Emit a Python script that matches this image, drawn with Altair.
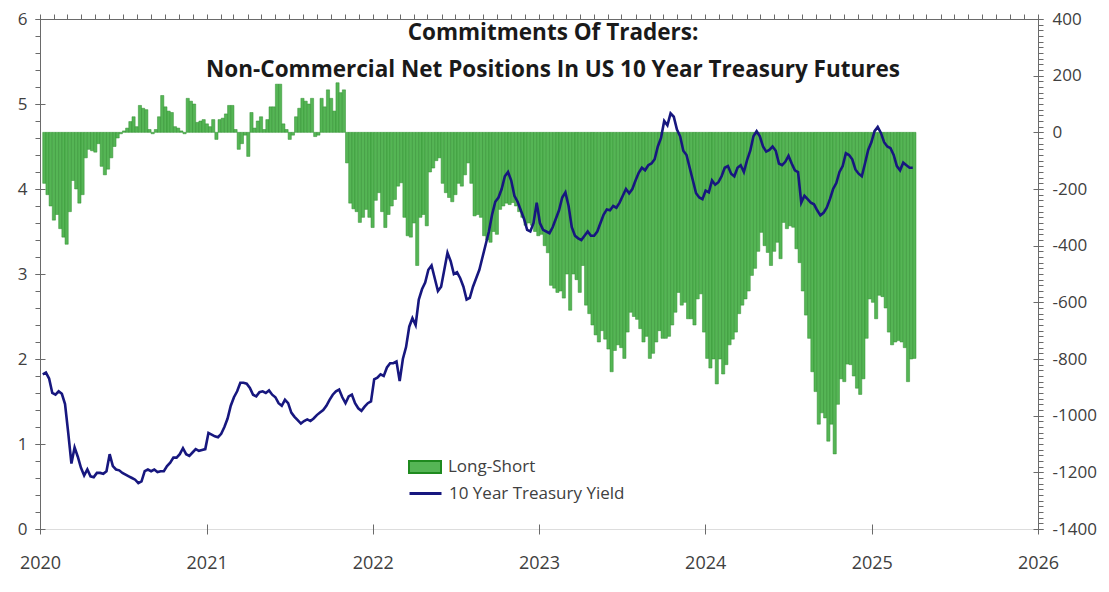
import altair as alt
import pandas as pd

# ---- Non-commercial net positions (thousands of contracts), weekly ----
pos_2020 = [-180, -220, -260, -310, -290, -340, -370, -395, -280, -170, -200, -250, -220,
            -90, -60, -65, -70, -40, -120, -150, -130, -90, -50, -20, -5,
            5, 15, 38, 55, 20, 95, 85, 80, 10, -5, 10, 55, 130, 90, 75, 70, 20, 15, 5, -5,
            120, 110, 100, 35, 40, 45, 30]
pos_2021 = [20, 45, -25, 45, 50, 65, 95, 95, 10, -60, -40, -10, -85, 70, 15, 40, 55, 10, 45,
            90, 90, 170, 170, 30, 10, -25, -10, 55, 85, 120, 110, 100, 120, -15, -10, 120, 90,
            150, 120, 75, 175, 140, 150,
            -108, -250, -270, -280, -318, -300, -272, -300, -336]
pos_2022 = [-240, -213, -280, -336, -290, -260, -237, -190, -178, -300, -365, -370, -320,
            -470, -300, -290, -330, -140, -126, -100, -90, -180, -213, -230, -245, -220,
            -180, -190, -150, -108, -180, -295, -290, -300, -365, -380, -388, -350, -360,
            -272, -260, -250, -255, -248, -260, -280, -300, -328, -320, -328, -350, -365]
pos_2023 = [-360, -400, -425, -540, -550, -565, -560, -585, -500, -628, -500, -520, -565,
            -470, -610, -640, -680, -715, -740, -700, -730, -765, -845, -770, -750, -760,
            -798, -705, -635, -650, -660, -693, -740, -720, -798, -780, -740, -700, -727,
            -727, -720, -680, -635, -565, -610, -600, -658, -658, -680, -588, -570, -705]
pos_2024 = [-798, -832, -800, -888, -800, -853, -820, -750, -730, -705, -640, -610, -588,
            -560, -505, -480, -420, -353, -400, -424, -470, -420, -388, -446, -318, -340,
            -330, -335, -411, -460, -560, -645, -727, -845, -915, -1030, -990, -1008, -1090,
            -1030, -1135, -960, -870, -880, -818, -820, -860, -903, -925, -870, -727, -588]
pos_2025 = [-600, -658, -575, -580, -620, -705, -750, -740, -735, -740, -760, -880, -800, -798]

# ---- 10 year treasury yield (%), weekly ----
yld_2020 = [1.82, 1.84, 1.77, 1.60, 1.58, 1.62, 1.59, 1.47, 1.13, 0.77, 0.96, 0.85, 0.72,
            0.63, 0.70, 0.62, 0.61, 0.66, 0.66, 0.65, 0.68, 0.88, 0.74, 0.70, 0.69, 0.66,
            0.64, 0.62, 0.60, 0.58, 0.54, 0.56, 0.68, 0.70, 0.68, 0.70, 0.67, 0.68, 0.68,
            0.74, 0.78, 0.84, 0.84, 0.88, 0.95, 0.88, 0.86, 0.90, 0.94, 0.92, 0.93, 0.94]
yld_2021 = [1.13, 1.11, 1.09, 1.08, 1.12, 1.20, 1.30, 1.45, 1.55, 1.62, 1.72, 1.72, 1.71,
            1.66, 1.58, 1.56, 1.61, 1.62, 1.60, 1.63, 1.58, 1.55, 1.48, 1.45, 1.52, 1.48,
            1.37, 1.32, 1.28, 1.24, 1.27, 1.29, 1.27, 1.30, 1.34, 1.37, 1.40, 1.45, 1.52,
            1.58, 1.62, 1.64, 1.55, 1.48, 1.56, 1.58, 1.48, 1.42, 1.39, 1.44, 1.48, 1.50]
yld_2022 = [1.76, 1.78, 1.82, 1.80, 1.90, 1.95, 1.95, 1.97, 1.74, 2.00, 2.14, 2.38, 2.48,
            2.40, 2.70, 2.82, 2.90, 3.05, 3.10, 2.95, 2.80, 2.85, 3.05, 3.25, 3.15, 3.00,
            3.02, 2.95, 2.85, 2.70, 2.72, 2.85, 2.95, 3.05, 3.20, 3.35, 3.50, 3.70, 3.85,
            3.90, 4.00, 4.15, 4.20, 4.10, 3.92, 3.85, 3.75, 3.65, 3.52, 3.50, 3.60, 3.84]
yld_2023 = [3.60, 3.52, 3.50, 3.48, 3.55, 3.65, 3.75, 3.90, 3.96, 3.80, 3.55, 3.45, 3.42,
            3.40, 3.45, 3.50, 3.45, 3.45, 3.50, 3.60, 3.70, 3.76, 3.75, 3.80, 3.78, 3.84,
            3.92, 4.00, 3.95, 4.00, 4.10, 4.19, 4.25, 4.22, 4.28, 4.30, 4.35, 4.50, 4.60,
            4.80, 4.75, 4.89, 4.85, 4.70, 4.62, 4.45, 4.40, 4.25, 4.10, 3.95, 3.90, 3.88]
yld_2024 = [3.98, 3.96, 4.10, 4.05, 4.08, 4.15, 4.25, 4.27, 4.18, 4.15, 4.25, 4.28, 4.20,
            4.34, 4.45, 4.62, 4.68, 4.62, 4.50, 4.44, 4.46, 4.50, 4.45, 4.30, 4.28, 4.32,
            4.39, 4.30, 4.22, 4.20, 3.84, 3.92, 3.88, 3.84, 3.82, 3.75, 3.69, 3.72, 3.78,
            3.88, 4.00, 4.07, 4.20, 4.27, 4.42, 4.40, 4.35, 4.23, 4.18, 4.15, 4.30, 4.46]
yld_2025 = [4.55, 4.68, 4.73, 4.66, 4.55, 4.50, 4.48, 4.40, 4.27, 4.22, 4.31, 4.28, 4.25, 4.25]

year_ticks = [2020, 2021, 2022, 2023, 2024, 2025, 2026]
left_ticks = [0, 1, 2, 3, 4, 5, 6]
right_ticks = [-1400, -1200, -1000, -800, -600, -400, -200, 0, 200, 400]
title_lines = ["Commitments Of Traders:",
               "Non-Commercial Net Positions In US 10 Year Treasury Futures"]
series_bar = "Long-Short"
series_line = "10 Year Treasury Yield"

positions = pos_2020 + pos_2021 + pos_2022 + pos_2023 + pos_2024 + pos_2025
yields = yld_2020 + yld_2021 + yld_2022 + yld_2023 + yld_2024 + yld_2025
dates = pd.date_range("2020-01-07", periods=len(positions), freq="7D")
df = pd.DataFrame({
    "date": dates.strftime("%Y-%m-%d"),
    "end": (dates + pd.Timedelta(days=7)).strftime("%Y-%m-%d"),
    "pos": positions,
    "yld": yields,
    "s1": series_bar,
    "s2": series_line,
})

FONT = "Open Sans"
LABEL_COLOR = "#404040"
AXIS_COLOR = "#6a6a6a"
GREEN = "#55b555"
NAVY = "#17177f"

year_vals = [alt.DateTime(year=y, month=1, date=1) for y in year_ticks]
month_vals = [alt.DateTime(year=y, month=m, date=1)
              for y in range(year_ticks[0], year_ticks[-1]) for m in range(1, 13)] + [year_vals[-1]]
xs = alt.Scale(domain=[year_vals[0], year_vals[-1]], nice=False)
ys_left = alt.Scale(domain=[left_ticks[0], left_ticks[-1]], nice=False, zero=False)
ys_right = alt.Scale(domain=[right_ticks[0], right_ticks[-1]], nice=False, zero=False)

left_minor = [round(v * 0.2, 1) for v in range(0, 31)]
right_minor = list(range(-1400, 401, 20))

base = alt.Chart(df)

bars = base.mark_bar(stroke="#2f8f2f", strokeWidth=0.5).encode(
    x=alt.X("date:T", scale=xs, title=None,
            axis=alt.Axis(values=year_vals, format="%Y", offset=-5, tickSize=10,
                          domain=False, grid=False, labelPadding=20, labelFontSize=18,
                          labelFont=FONT, labelColor=LABEL_COLOR, tickColor=AXIS_COLOR,
                          labelFlush=False)),
    x2="end:T",
    y=alt.Y("pos:Q", scale=ys_right, title=None,
            axis=alt.Axis(orient="right", values=right_ticks, offset=-5, tickSize=10,
                          domain=False, grid=False, labelPadding=9, labelFontSize=17,
                          labelFont=FONT, labelColor=LABEL_COLOR, tickColor=AXIS_COLOR,
                          labelExpr="'' + datum.value")),
    y2=alt.datum(0),
    fill=alt.Fill("s1:N", scale=alt.Scale(domain=[series_bar], range=[GREEN]),
                  legend=alt.Legend(orient="none", legendX=368, legendY=431, title=None,
                                    symbolType="M-1,-0.375H1V0.375H-1Z", symbolSize=1024,
                                    symbolStrokeColor="#1f8a1f", symbolStrokeWidth=2,
                                    labelFont=FONT, labelFontSize=17, labelColor=LABEL_COLOR,
                                    labelOffset=6, labelLimit=400)),
)

line = base.mark_line(strokeWidth=2.6).encode(
    x=alt.X("date:T", scale=xs, title=None,
            axis=alt.Axis(values=month_vals, tickSize=5, labels=False, domain=True,
                          grid=False, domainColor=AXIS_COLOR, tickColor=AXIS_COLOR)),
    y=alt.Y("yld:Q", scale=ys_left, title=None,
            axis=alt.Axis(orient="left", values=left_ticks, offset=-5, tickSize=10,
                          domain=False, grid=False, labelPadding=8, labelFontSize=17,
                          labelFont=FONT, labelColor=LABEL_COLOR, tickColor=AXIS_COLOR)),
    stroke=alt.Stroke("s2:N", scale=alt.Scale(domain=[series_line], range=[NAVY]),
                      legend=alt.Legend(orient="none", legendX=368, legendY=457, title=None,
                                        symbolType="stroke", symbolSize=1024,
                                        symbolStrokeWidth=3,
                                        labelFont=FONT, labelFontSize=17,
                                        labelColor=LABEL_COLOR, labelOffset=6,
                                        labelLimit=400)),
)

left_minor_axis = base.mark_line(opacity=0).encode(
    x=alt.X("date:T", scale=xs, axis=None),
    y=alt.Y("yld:Q", scale=ys_left, title=None,
            axis=alt.Axis(orient="left", values=left_minor, tickSize=5, labels=False,
                          domain=True, grid=False, domainColor=AXIS_COLOR,
                          tickColor=AXIS_COLOR)),
)

right_minor_axis = base.mark_line(opacity=0).encode(
    x=alt.X("date:T", scale=xs, axis=None),
    y=alt.Y("pos:Q", scale=ys_right, title=None,
            axis=alt.Axis(orient="right", values=right_minor, tickSize=5, labels=False,
                          domain=True, grid=False, domainColor=AXIS_COLOR,
                          tickColor=AXIS_COLOR)),
)

chart = alt.layer(bars, line, left_minor_axis, right_minor_axis).resolve_scale(
    y="independent", fill="independent", stroke="independent"
).resolve_axis(
    x="independent", y="independent"
).resolve_legend(
    fill="independent", stroke="independent"
).properties(
    width=998, height=510,
    autosize=alt.AutoSizeParams(type="none"),
    padding={"left": 32, "top": 11, "right": 63, "bottom": 55},
    title=alt.TitleParams(title_lines, anchor="middle", orient="top", offset=-71, dx=14,
                          font=FONT, fontSize=22.5, fontWeight="bold", color="#1a1a1a",
                          lineHeight=37),
).configure_view(stroke=None).configure(background="white")

chart.save("out.html", embed_options={"renderer": "svg", "actions": False})
